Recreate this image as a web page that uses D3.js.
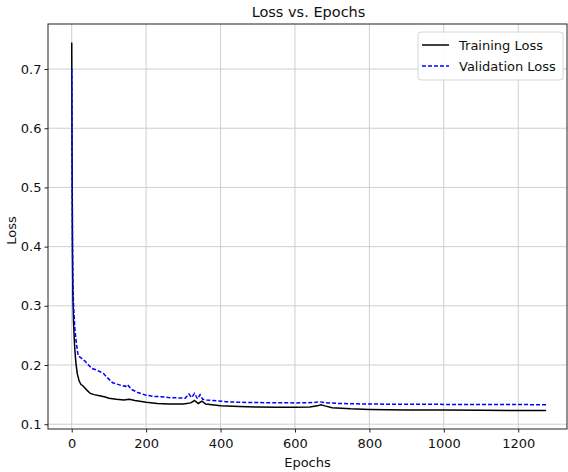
<!DOCTYPE html>
<html>
<head>
<meta charset="utf-8">
<script src="https://cdn.jsdelivr.net/npm/d3@7"></script>
<style>
  html, body { margin: 0; padding: 0; background: #fff; overflow: hidden; }
  text { font-family: "DejaVu Sans", sans-serif; }
</style>
</head>
<body>
<div id="chart"></div>
<script>
// --- Data ---
const trainEpochs = [0, 1, 2, 3, 5, 8, 11, 15, 20, 25, 30, 40, 50, 60, 75, 90, 100, 120, 140, 155, 170, 200, 230, 260, 300, 320, 330, 340, 350, 360, 400, 450, 500, 550, 600, 640, 660, 670, 680, 700, 750, 800, 900, 1000, 1100, 1200, 1275];
const trainLoss = [0.745, 0.55, 0.40, 0.32, 0.27, 0.23, 0.205, 0.185, 0.173, 0.167, 0.165, 0.158, 0.152, 0.150, 0.148, 0.146, 0.144, 0.142, 0.141, 0.142, 0.140, 0.137, 0.135, 0.134, 0.134, 0.136, 0.140, 0.135, 0.139, 0.134, 0.131, 0.130, 0.129, 0.1285, 0.1285, 0.129, 0.131, 0.133, 0.131, 0.128, 0.126, 0.125, 0.124, 0.124, 0.1235, 0.123, 0.123];

const valEpochs = [0, 1, 2, 3, 5, 8, 11, 15, 18, 25, 35, 45, 55, 65, 75, 85, 95, 110, 130, 145, 150, 160, 180, 200, 220, 240, 260, 290, 305, 315, 322, 330, 338, 345, 352, 362, 380, 415, 450, 500, 600, 650, 665, 675, 690, 720, 800, 1000, 1275];
const valLoss = [0.70, 0.55, 0.42, 0.34, 0.30, 0.265, 0.245, 0.225, 0.215, 0.212, 0.207, 0.200, 0.194, 0.192, 0.189, 0.186, 0.179, 0.170, 0.166, 0.164, 0.167, 0.159, 0.153, 0.149, 0.147, 0.1465, 0.145, 0.1443, 0.144, 0.151, 0.145, 0.152, 0.143, 0.150, 0.142, 0.141, 0.140, 0.138, 0.137, 0.1365, 0.136, 0.1365, 0.138, 0.137, 0.136, 0.135, 0.134, 0.1335, 0.133];

const xTicks = [0, 200, 400, 600, 800, 1000, 1200];
const yTicks = [0.1, 0.2, 0.3, 0.4, 0.5, 0.6, 0.7];

// --- Layout ---
const width = 568;
const height = 472;
const plot = { left: 48, right: 567, top: 24, bottom: 429 };

const svg = d3
  .select("#chart")
  .append("svg")
  .attr("width", width)
  .attr("height", height);

// matplotlib-style 5% margins around the data
const xMax = d3.max(trainEpochs);
const yLo = Math.min(d3.min(trainLoss), d3.min(valLoss));
const yHi = Math.max(d3.max(trainLoss), d3.max(valLoss));
const yPad = (yHi - yLo) * 0.05;

const x = d3.scaleLinear().domain([-0.05 * xMax, 1.044 * xMax]).range([plot.left, plot.right]);
const y = d3.scaleLinear().domain([yLo - yPad, yHi + yPad]).range([plot.bottom, plot.top]);

// --- Grid ---
const grid = svg.append("g").attr("stroke", "#cfcfcf").attr("stroke-width", 1);
grid.selectAll(".vg").data(xTicks).join("line")
  .attr("x1", (d) => x(d)).attr("x2", (d) => x(d))
  .attr("y1", plot.top).attr("y2", plot.bottom);
grid.selectAll(".hg").data(yTicks).join("line")
  .attr("y1", (d) => y(d)).attr("y2", (d) => y(d))
  .attr("x1", plot.left).attr("x2", plot.right);

// --- Lines ---
const trainData = trainEpochs.map((e, i) => [e, trainLoss[i]]);
const valData = valEpochs.map((e, i) => [e, valLoss[i]]);
const line = d3.line().x((d) => x(d[0])).y((d) => y(d[1]));

svg.append("path")
  .datum(trainData)
  .attr("fill", "none")
  .attr("stroke", "#000")
  .attr("stroke-width", 1.5)
  .attr("d", line);

svg.append("path")
  .datum(valData)
  .attr("fill", "none")
  .attr("stroke", "#0000ff")
  .attr("stroke-width", 1.5)
  .attr("stroke-dasharray", "4,2")
  .attr("d", line);

// --- Axes ---
const xAxis = svg.append("g")
  .attr("transform", `translate(0,${plot.bottom})`)
  .call(d3.axisBottom(x).tickValues(xTicks).tickSize(3.5).tickPadding(6).tickFormat(d3.format("d")));
const yAxis = svg.append("g")
  .attr("transform", `translate(${plot.left},0)`)
  .call(d3.axisLeft(y).tickValues(yTicks).tickSize(3.5).tickPadding(3).tickFormat(d3.format(".1f")));

[xAxis, yAxis].forEach((a) => {
  a.select(".domain").remove();
  a.selectAll("line").attr("stroke", "#222");
  a.selectAll("text").attr("fill", "#111").style("font-size", "13px");
});

// spines
svg.append("rect")
  .attr("x", plot.left).attr("y", plot.top)
  .attr("width", plot.right - plot.left).attr("height", plot.bottom - plot.top)
  .attr("fill", "none").attr("stroke", "#222").attr("stroke-width", 1);

// --- Labels ---
svg.append("text")
  .attr("x", (plot.left + plot.right) / 2 + 1).attr("y", 17)
  .attr("text-anchor", "middle")
  .style("font-size", "14.5px")
  .attr("fill", "#111")
  .text("Loss vs. Epochs");

svg.append("text")
  .attr("x", (plot.left + plot.right) / 2).attr("y", 467)
  .attr("text-anchor", "middle")
  .style("font-size", "13px")
  .attr("fill", "#111")
  .text("Epochs");

svg.append("text")
  .attr("transform", `translate(16,${(plot.top + plot.bottom) / 2 + 4}) rotate(-90)`)
  .attr("text-anchor", "middle")
  .style("font-size", "13px")
  .attr("fill", "#111")
  .text("Loss");

// --- Legend ---
const legend = svg.append("g").attr("transform", "translate(418,32)");
legend.append("rect")
  .attr("width", 145).attr("height", 48).attr("rx", 3)
  .attr("fill", "#fff").attr("fill-opacity", 0.85)
  .attr("stroke", "#d6d6d6");

const legendItems = [
  { label: "Training Loss", color: "#000", dash: null },
  { label: "Validation Loss", color: "#0000ff", dash: "4,2" },
];
legendItems.forEach((item, i) => {
  const yy = 13 + i * 21;
  legend.append("line")
    .attr("x1", 4).attr("x2", 31).attr("y1", yy).attr("y2", yy)
    .attr("stroke", item.color).attr("stroke-width", 1.5)
    .attr("stroke-dasharray", item.dash);
  legend.append("text")
    .attr("x", 41).attr("y", yy + 4.5)
    .style("font-size", "13px")
    .attr("fill", "#111")
    .text(item.label);
});
</script>
</body>
</html>
